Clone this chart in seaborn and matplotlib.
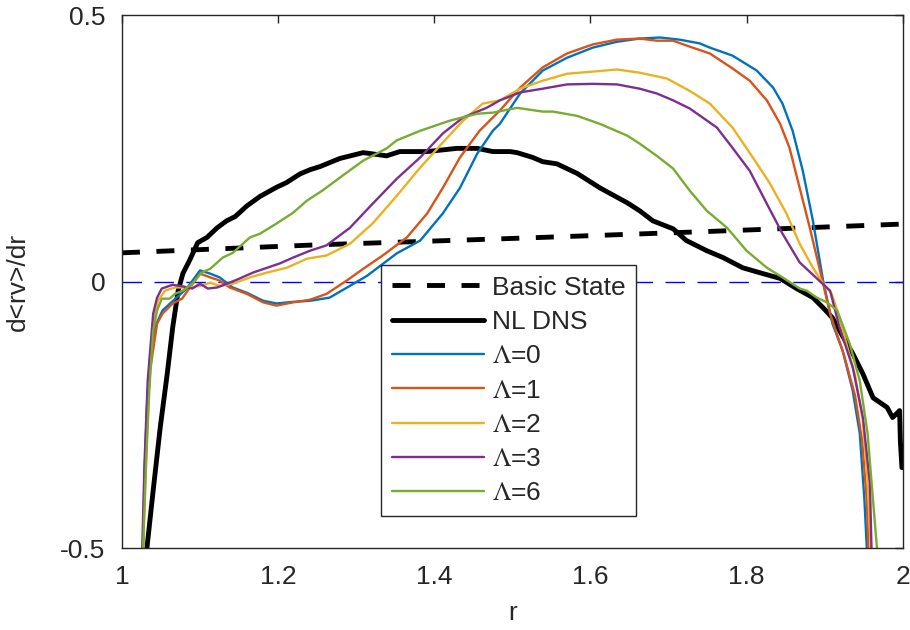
import numpy as np
import pandas as pd
import matplotlib
matplotlib.use("Agg")
import matplotlib.pyplot as plt
import seaborn as sns

# values
basic_r = [1.0, 1.25, 1.5, 1.75, 2.0]
basic_y = [0.054, 0.069, 0.081, 0.094, 0.108]

dns_r = [1.032, 1.040, 1.049, 1.058, 1.065, 1.072, 1.078, 1.087, 1.097, 1.109,
         1.122, 1.134, 1.145, 1.160, 1.177, 1.198, 1.211, 1.228, 1.241, 1.254,
         1.279, 1.309, 1.339, 1.356, 1.391, 1.429, 1.455, 1.475, 1.497, 1.506,
         1.526, 1.539, 1.557, 1.583, 1.612, 1.647, 1.663, 1.680, 1.706, 1.723,
         1.749, 1.770, 1.795, 1.821, 1.843, 1.864, 1.885, 1.898, 1.910, 1.919,
         1.936, 1.949, 1.962, 1.980, 1.987, 1.992, 1.996, 1.997, 1.999]
dns_y = [-0.50, -0.392, -0.274, -0.173, -0.086, -0.017, 0.015, 0.041, 0.073, 0.083,
         0.101, 0.114, 0.122, 0.142, 0.160, 0.177, 0.186, 0.202, 0.210, 0.216,
         0.231, 0.242, 0.236, 0.244, 0.244, 0.250, 0.250, 0.244, 0.244, 0.242,
         0.233, 0.225, 0.221, 0.203, 0.176, 0.148, 0.133, 0.114, 0.099, 0.077,
         0.058, 0.045, 0.026, 0.015, 0.006, -0.013, -0.030, -0.049, -0.068, -0.092,
         -0.135, -0.173, -0.218, -0.236, -0.255, -0.248, -0.242, -0.30, -0.349]

l0_r = [1.027, 1.029, 1.032, 1.036, 1.042, 1.052, 1.070, 1.083, 1.100, 1.113,
        1.125, 1.142, 1.160, 1.181, 1.198, 1.219, 1.241, 1.266, 1.292, 1.314,
        1.352, 1.382, 1.411, 1.433, 1.455, 1.475, 1.484, 1.510, 1.539, 1.570,
        1.603, 1.634, 1.663, 1.689, 1.714, 1.740, 1.753, 1.782, 1.813, 1.834,
        1.846, 1.859, 1.872, 1.885, 1.898, 1.910, 1.923, 1.936, 1.945, 1.951, 1.954]
l0_y = [-0.50, -0.36, -0.236, -0.143, -0.086, -0.054, -0.030, -0.013, 0.021, 0.015,
        0.008, -0.011, -0.021, -0.036, -0.041, -0.038, -0.036, -0.030, -0.008, 0.011,
        0.053, 0.077, 0.128, 0.176, 0.240, 0.283, 0.296, 0.353, 0.396, 0.420,
        0.439, 0.450, 0.456, 0.458, 0.454, 0.447, 0.439, 0.424, 0.396, 0.364,
        0.334, 0.283, 0.208, 0.114, 0.002, -0.079, -0.129, -0.205, -0.285, -0.411, -0.50]

l1_r = [1.027, 1.029, 1.032, 1.036, 1.045, 1.052, 1.065, 1.077, 1.087, 1.100,
        1.113, 1.125, 1.138, 1.160, 1.181, 1.198, 1.219, 1.241, 1.262, 1.288,
        1.309, 1.334, 1.365, 1.391, 1.411, 1.433, 1.458, 1.484, 1.510, 1.539,
        1.570, 1.603, 1.634, 1.663, 1.685, 1.706, 1.723, 1.753, 1.782, 1.804,
        1.826, 1.843, 1.855, 1.868, 1.881, 1.894, 1.907, 1.925, 1.939, 1.948, 1.954, 1.956]
l1_y = [-0.50, -0.373, -0.26, -0.167, -0.079, -0.060, -0.041, -0.032, -0.011, 0.015,
        0.008, 0.002, -0.011, -0.023, -0.039, -0.045, -0.039, -0.034, -0.023, 0.002,
        0.024, 0.049, 0.083, 0.128, 0.176, 0.233, 0.283, 0.321, 0.364, 0.402,
        0.428, 0.445, 0.454, 0.456, 0.452, 0.452, 0.443, 0.428, 0.400, 0.377,
        0.340, 0.296, 0.251, 0.176, 0.101, 0.021, -0.060, -0.139, -0.214, -0.298, -0.411, -0.50]

l2_r = [1.027, 1.031, 1.035, 1.040, 1.046, 1.055, 1.068, 1.087, 1.100, 1.113,
        1.125, 1.142, 1.164, 1.186, 1.211, 1.237, 1.262, 1.292, 1.321, 1.352,
        1.382, 1.411, 1.437, 1.462, 1.484, 1.510, 1.539, 1.570, 1.603, 1.634,
        1.663, 1.698, 1.727, 1.753, 1.782, 1.808, 1.830, 1.851, 1.868, 1.885,
        1.898, 1.909, 1.916, 1.925, 1.939, 1.949, 1.955, 1.959]
l2_y = [-0.50, -0.336, -0.186, -0.073, -0.036, -0.017, -0.011, -0.011, -0.008, -0.002,
        -0.008, -0.004, 0.008, 0.017, 0.026, 0.043, 0.049, 0.071, 0.109, 0.161,
        0.214, 0.261, 0.302, 0.334, 0.340, 0.362, 0.377, 0.390, 0.394, 0.398,
        0.392, 0.381, 0.358, 0.334, 0.289, 0.233, 0.184, 0.128, 0.071, 0.026,
        -0.004, -0.023, -0.054, -0.101, -0.176, -0.261, -0.373, -0.50]

l3_r = [1.026, 1.029, 1.033, 1.040, 1.045, 1.051, 1.065, 1.078, 1.090, 1.100,
        1.110, 1.122, 1.138, 1.151, 1.168, 1.186, 1.202, 1.219, 1.241, 1.262,
        1.292, 1.321, 1.352, 1.382, 1.411, 1.437, 1.467, 1.484, 1.510, 1.539,
        1.570, 1.603, 1.634, 1.663, 1.685, 1.706, 1.727, 1.762, 1.782, 1.804,
        1.826, 1.846, 1.868, 1.890, 1.907, 1.919, 1.936, 1.949, 1.958, 1.960]
l3_y = [-0.50, -0.336, -0.186, -0.060, -0.030, -0.013, -0.006, -0.009, -0.013, -0.004,
        -0.013, -0.011, -0.002, 0.006, 0.017, 0.026, 0.034, 0.045, 0.058, 0.068,
        0.101, 0.146, 0.193, 0.233, 0.278, 0.308, 0.326, 0.340, 0.355, 0.362,
        0.370, 0.371, 0.370, 0.362, 0.353, 0.340, 0.325, 0.289, 0.251, 0.208,
        0.146, 0.090, 0.036, 0.006, -0.017, -0.086, -0.161, -0.255, -0.379, -0.50]

l6_r = [1.027, 1.031, 1.035, 1.040, 1.045, 1.051, 1.061, 1.068, 1.078, 1.090,
        1.102, 1.113, 1.129, 1.142, 1.164, 1.177, 1.198, 1.219, 1.237, 1.257,
        1.279, 1.309, 1.339, 1.352, 1.382, 1.420, 1.455, 1.475, 1.506, 1.539,
        1.552, 1.583, 1.612, 1.647, 1.663, 1.685, 1.706, 1.727, 1.749, 1.775,
        1.800, 1.826, 1.846, 1.868, 1.877, 1.890, 1.903, 1.916, 1.932, 1.945,
        1.955, 1.962, 1.967]
l6_y = [-0.50, -0.336, -0.205, -0.092, -0.054, -0.032, -0.032, -0.023, -0.017, -0.004,
        0.017, 0.024, 0.045, 0.054, 0.083, 0.090, 0.109, 0.129, 0.152, 0.171,
        0.195, 0.227, 0.250, 0.265, 0.283, 0.302, 0.315, 0.317, 0.326, 0.319,
        0.319, 0.311, 0.296, 0.274, 0.259, 0.236, 0.212, 0.171, 0.133, 0.101,
        0.058, 0.026, 0.008, -0.013, -0.017, -0.030, -0.039, -0.054, -0.116, -0.186,
        -0.285, -0.411, -0.50]

x_ticks = [1, 1.2, 1.4, 1.6, 1.8, 2]
x_labels = ["1", "1.2", "1.4", "1.6", "1.8", "2"]
y_ticks = [-0.5, 0, 0.5]
y_labels = ["-0.5", "0", "0.5"]

sns.set_style("white")
plt.rcParams["font.family"] = ["Liberation Sans", "DejaVu Sans"]
plt.rcParams["mathtext.fontset"] = "stix"

axis_col = "#262626"
fs = 19
fig = plt.figure(figsize=(9.1, 6.3), dpi=100)
ax = fig.add_axes([0.134, 0.130, 0.858, 0.846])

ax.axhline(0, color="#0000FF", lw=1.0, ls=(0, (14, 9)), zorder=1)

sns.lineplot(x=basic_r, y=basic_y, ax=ax, color="black", lw=3.5,
             ls=(0, (3.7, 3.4)), label="Basic State", sort=False)
sns.lineplot(x=dns_r, y=dns_y, ax=ax, color="black", lw=3.5,
             label="NL DNS", sort=False)

lam_series = [(l0_r, l0_y, "0", "#0072BD"), (l1_r, l1_y, "1", "#D95319"),
              (l2_r, l2_y, "2", "#EDB120"), (l3_r, l3_y, "3", "#7E2F8E"),
              (l6_r, l6_y, "6", "#77AC30")]
for rr, yy, lam, col in lam_series:
    sns.lineplot(x=rr, y=yy, ax=ax, color=col, lw=1.7,
                 label=r"$\Lambda$=" + lam, sort=False)

ax.set_xlim(1, 2)
ax.set_ylim(-0.5, 0.5)
ax.set_xticks(x_ticks)
ax.set_xticklabels(x_labels)
ax.set_yticks(y_ticks)
ax.set_yticklabels(y_labels)
ax.tick_params(direction="in", length=6, width=1, colors=axis_col,
               labelsize=fs, top=True, right=True)
ax.tick_params(axis="x", pad=12)
ax.tick_params(axis="y", pad=12)
for sp in ax.spines.values():
    sp.set_color(axis_col)
    sp.set_linewidth(1.0)
    sp.set_visible(True)

ax.set_xlabel("r", fontsize=fs, color=axis_col)
ax.set_ylabel("d<rv>/dr", fontsize=fs, color=axis_col)
ax.xaxis.set_label_coords(0.5, -0.1)
ax.yaxis.set_label_coords(-0.118, 0.5)

leg = ax.legend(loc="upper left", bbox_to_anchor=(0.332, 0.531),
                borderaxespad=0, fontsize=fs, frameon=True, fancybox=False,
                framealpha=1, edgecolor=axis_col, handlelength=3.5,
                handletextpad=0.3, labelspacing=0.39, borderpad=0.4)
leg.get_frame().set_linewidth(1.0)

fig.savefig("out.png", dpi=100)
